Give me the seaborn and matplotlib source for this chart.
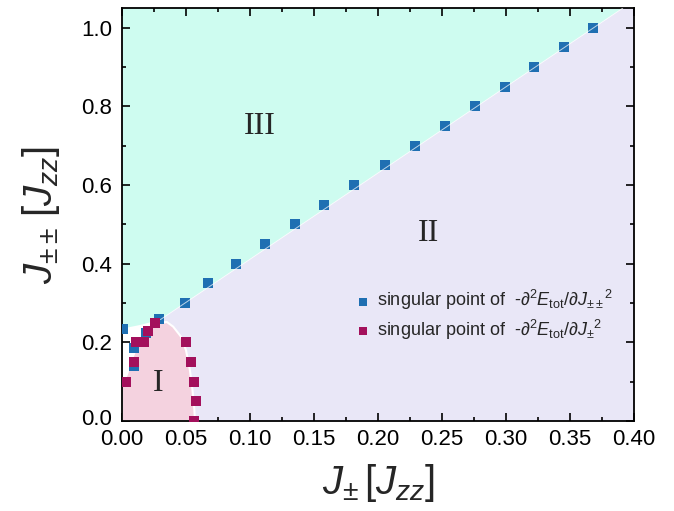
import numpy as np
import pandas as pd
import matplotlib
matplotlib.use('Agg')
import matplotlib.pyplot as plt
import matplotlib.transforms as mtrans
import seaborn as sns

# singular points of -d2E/dJpmpm^2 (blue)
blue_x = [0.001, 0.009, 0.009, 0.019, 0.029, 0.049, 0.067, 0.089, 0.112, 0.135,
          0.158, 0.181, 0.205, 0.229, 0.252, 0.276, 0.299, 0.322, 0.345, 0.368]
blue_y = [0.235, 0.185, 0.14, 0.225, 0.26, 0.30, 0.35, 0.40, 0.45, 0.50,
          0.55, 0.60, 0.65, 0.70, 0.75, 0.80, 0.85, 0.90, 0.95, 1.00]

# singular points of -d2E/dJpm^2 (purple)
purple_x = [0.003, 0.009, 0.011, 0.017, 0.020, 0.026, 0.050, 0.054, 0.056, 0.058, 0.056]
purple_y = [0.10, 0.15, 0.20, 0.20, 0.23, 0.25, 0.20, 0.15, 0.10, 0.05, 0.0]

# phase boundaries
pink_x = [0.0, 0.0, 0.004, 0.008, 0.013, 0.020, 0.028, 0.035, 0.040, 0.046, 0.050, 0.053, 0.055, 0.0565, 0.057]
pink_y = [0.0, 0.09, 0.12, 0.16, 0.20, 0.23, 0.248, 0.252, 0.24, 0.215, 0.18, 0.13, 0.08, 0.03, 0.0]
line_x = [0.0, 0.015, 0.030, 0.391]
line_y = [0.235, 0.245, 0.258, 1.05]

region_labels = ['I', 'II', 'III']
region_x = [0.028, 0.239, 0.108]
region_y = [0.096, 0.477, 0.75]

sns.set_style('ticks')
plt.rcParams['font.family'] = ['Liberation Sans', 'DejaVu Sans']
plt.rcParams['mathtext.fontset'] = 'custom'
plt.rcParams['mathtext.rm'] = 'Liberation Sans'
plt.rcParams['mathtext.it'] = 'Liberation Sans:italic'
plt.rcParams['mathtext.sf'] = 'Liberation Sans'

fig = plt.figure(figsize=(6.74, 5.11), dpi=100)
ax = fig.add_axes([0.181, 0.176, 0.760, 0.808])

xmax, ymax = 0.40, 1.05

# region III (cyan) above the line
ax.fill(line_x + [0.0], line_y + [ymax], color='#cefcf0', lw=0, zorder=0)

# region II (lavender) below the line and right of region I
lav_x = line_x[2:] + [xmax, xmax] + pink_x[7:][::-1]
lav_y = line_y[2:] + [ymax, 0.0] + pink_y[7:][::-1]
ax.fill(lav_x, lav_y, color='#e9e7f7', lw=0, zorder=0)

# region I (pink)
ax.fill(pink_x, pink_y, facecolor='#f4d2df', edgecolor='white', lw=1.5, zorder=1)

blue_df = pd.DataFrame({'x': blue_x, 'y': blue_y})
purple_df = pd.DataFrame({'x': purple_x, 'y': purple_y})
sns.scatterplot(data=blue_df, x='x', y='y', marker='s', s=55, color='#1f6fb2',
                linewidth=0, ax=ax, zorder=3,
                label=r'singular point of  -$\partial^2E_{\rm tot}/\partial J_{\pm\pm}{}^{2}$')
ax.plot(line_x[2:], line_y[2:], color='white', lw=0.7, alpha=0.7, zorder=4)
sns.scatterplot(data=purple_df, x='x', y='y', marker='s', s=55, color='#a3105c',
                linewidth=0, ax=ax, zorder=5,
                label=r'singular point of  -$\partial^2E_{\rm tot}/\partial J_{\pm}{}^{2}$')

for lab, tx, ty in zip(region_labels, region_x, region_y):
    ax.text(tx, ty, lab, family='Liberation Serif', fontsize=23, ha='center', va='center', zorder=6)

ax.set_xlim(0, xmax)
ax.set_ylim(0, ymax)
ax.set_xticks(np.arange(0, 0.401, 0.05))
ax.set_xticks(np.arange(0, 0.401, 0.025), minor=True)
ax.set_yticks(np.arange(0, 1.01, 0.2))
ax.set_yticks(np.arange(0, 1.05, 0.1), minor=True)
ax.xaxis.set_major_formatter(matplotlib.ticker.FormatStrFormatter('%.2f'))
ax.yaxis.set_major_formatter(matplotlib.ticker.FormatStrFormatter('%.1f'))
ax.tick_params(which='both', direction='in', top=True, right=True, labelsize=16,
               width=1.2, color='black', labelcolor='black')
ax.tick_params(axis='x', pad=6)
ax.tick_params(axis='y', pad=7)
ax.tick_params(which='major', length=6)
ax.tick_params(which='minor', length=3)
for sp in ax.spines.values():
    sp.set_linewidth(1.3)
    sp.set_color('black')

# lift the "0.0" label a little so it clears "0.00"
fig.canvas.draw()
lab0 = ax.get_yticklabels()[0]
lab0.set_transform(lab0.get_transform() + mtrans.ScaledTranslation(0, 3 / 72, fig.dpi_scale_trans))

ax.set_xlabel(r'$J_{\pm}\,[J_{zz}]$', fontsize=29, labelpad=8)
ax.set_ylabel(r'$J_{\pm\pm}\,[J_{zz}]$', fontsize=29, labelpad=14)

ax.legend(loc='center left', bbox_to_anchor=(0.438, 0.257), frameon=False, fontsize=13,
          handlelength=1.0, handletextpad=0.3, labelspacing=0.3, borderaxespad=0,
          markerscale=0.75)

fig.savefig('out.png', dpi=100)
